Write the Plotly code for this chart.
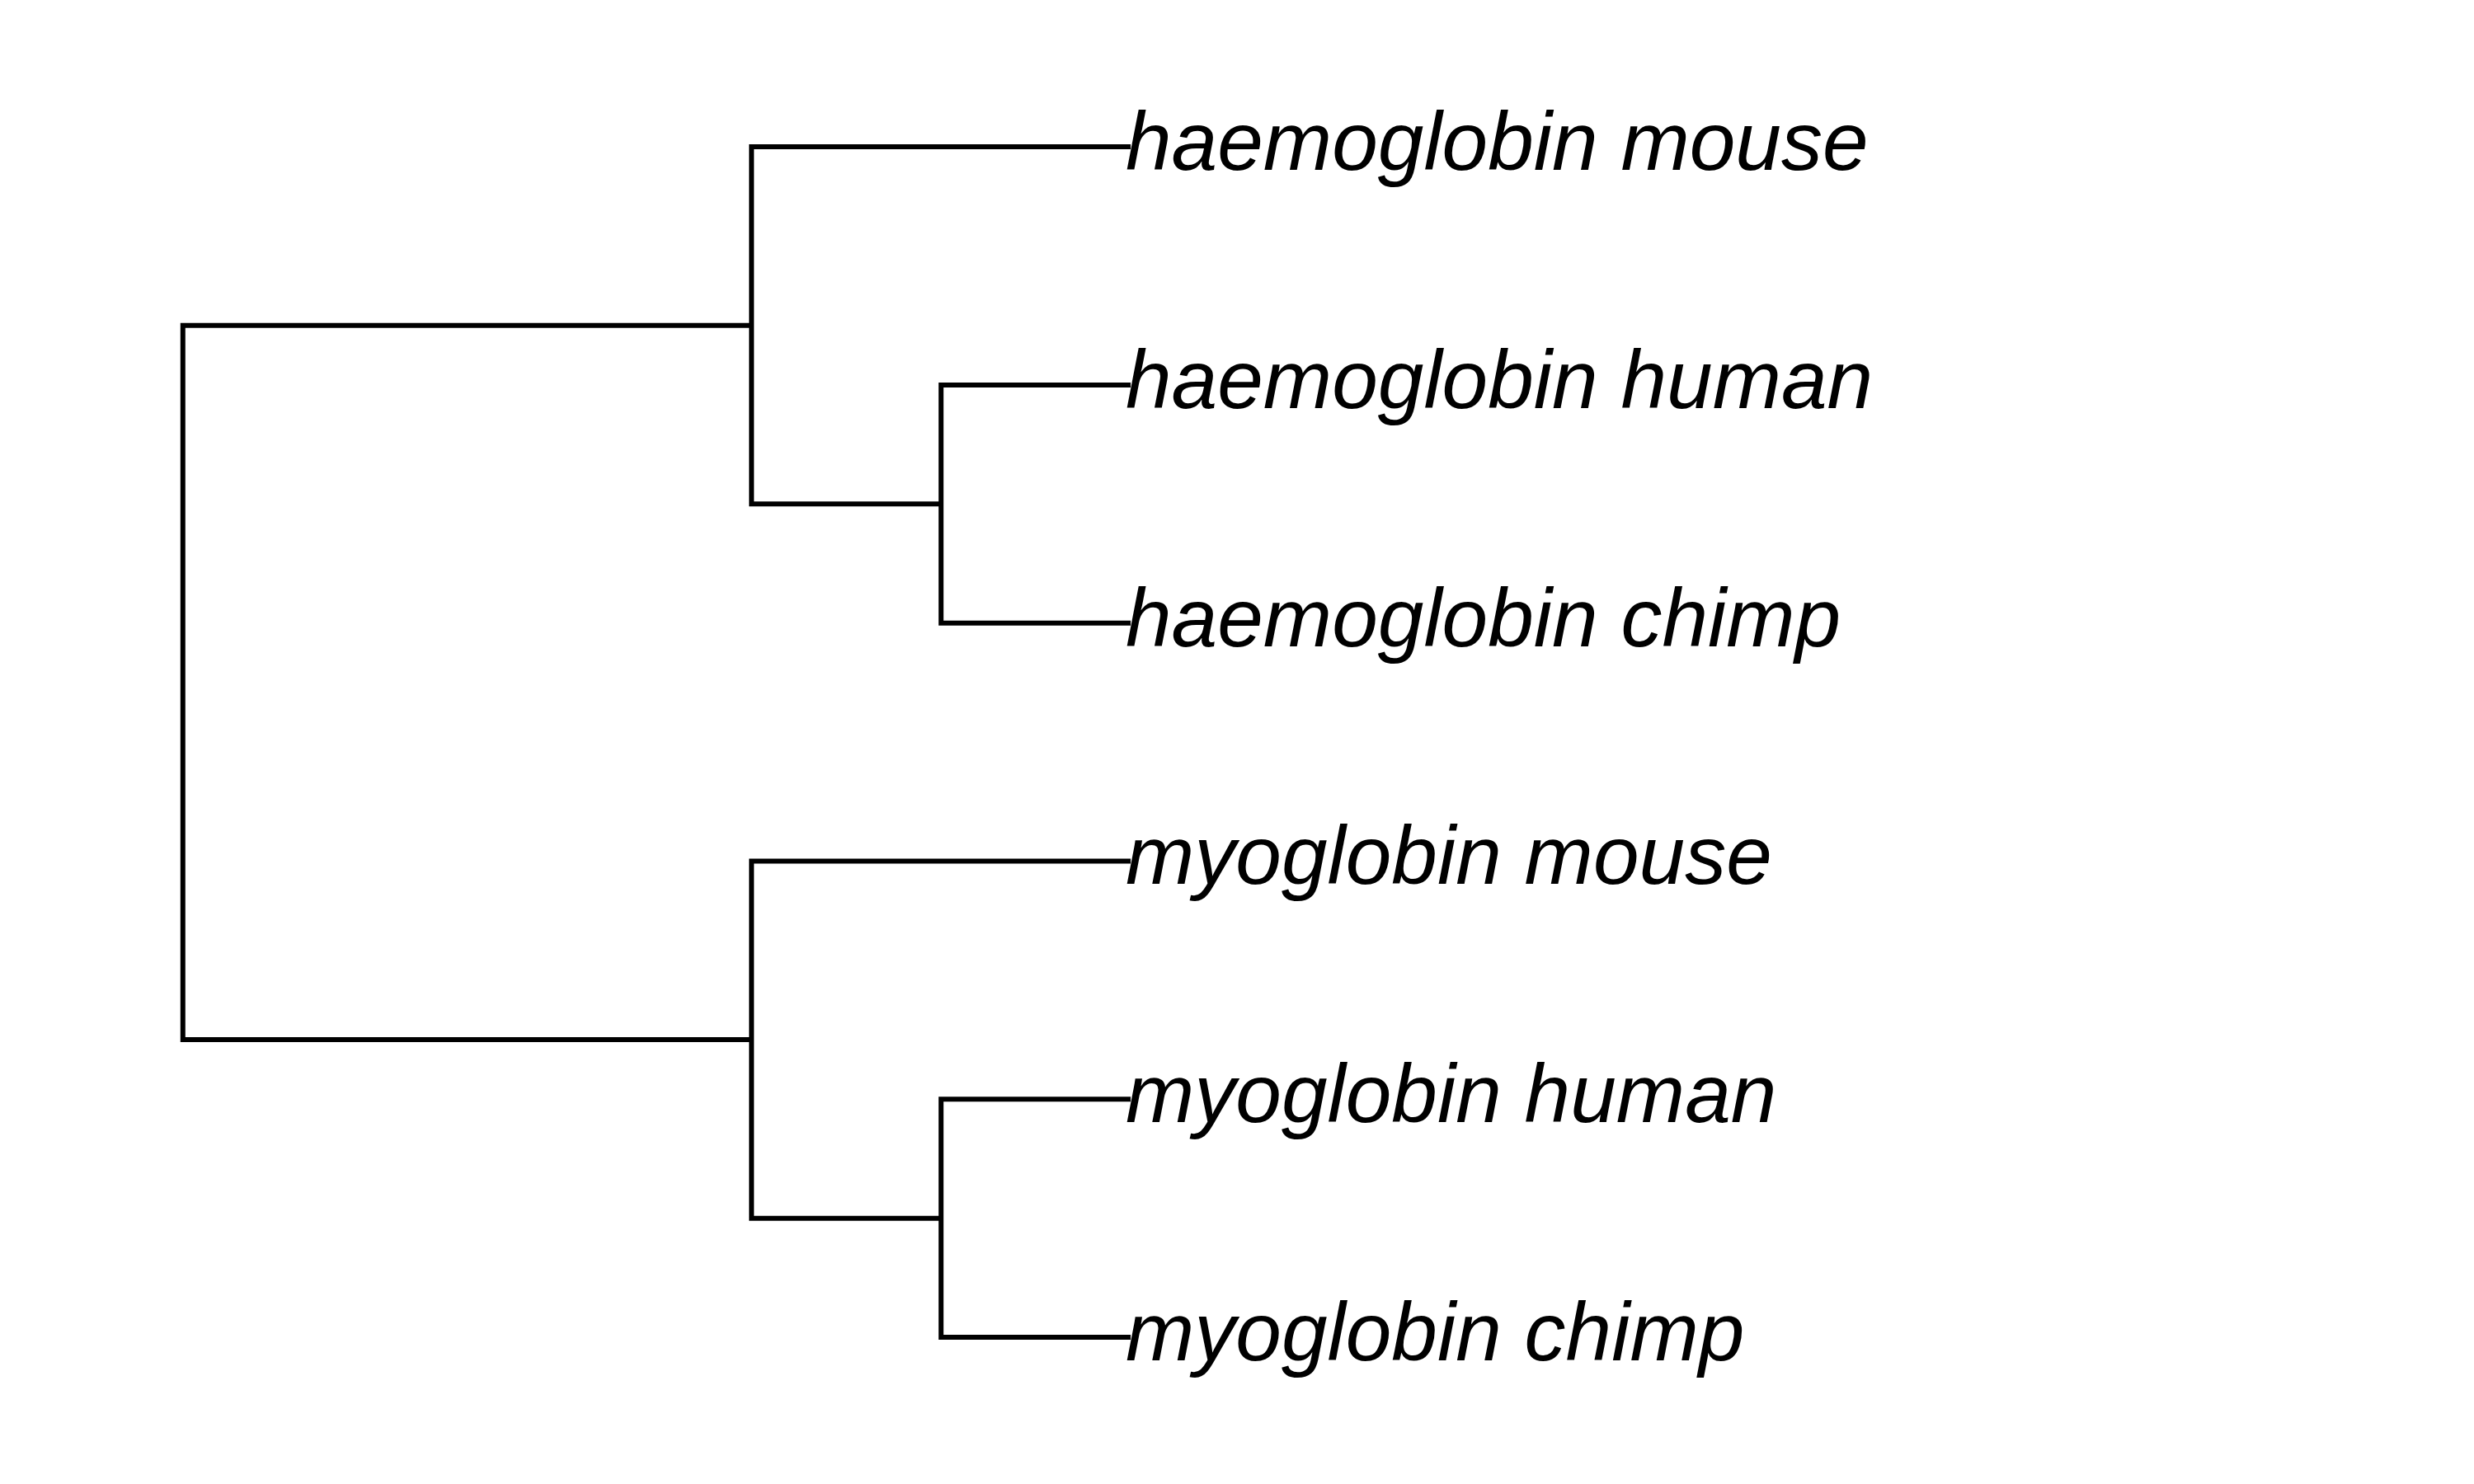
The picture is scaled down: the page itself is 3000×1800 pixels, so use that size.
"""Dendrogram of globin sequences drawn with plotly."""

import plotly.graph_objects as go

# leaf labels, top to bottom
labels = [
    "haemoglobin mouse",
    "haemoglobin human",
    "haemoglobin chimp",
    "myoglobin mouse",
    "myoglobin human",
    "myoglobin chimp",
]

# merges: (left node, right node, height); leaves are 0..5, new nodes are 6, 7, ...
merge_left = [1, 4, 0, 3, 8]
merge_right = [2, 5, 6, 7, 9]
merge_height = [1, 1, 2, 2, 5]

# node positions: leaves sit at height 0, y = 1..n
node_y = [i + 1 for i in range(len(labels))]
node_h = [0] * len(labels)

xs, ys = [], []
for a, b, h in zip(merge_left, merge_right, merge_height):
    # elbow: child a -> up to h, across, down to child b
    xs += [node_h[a], h, h, node_h[b], None]
    ys += [node_y[a], node_y[a], node_y[b], node_y[b], None]
    node_y.append((node_y[a] + node_y[b]) / 2)
    node_h.append(h)

fig = go.Figure(go.Scatter(
    x=xs,
    y=ys,
    mode="lines",
    line=dict(color="black", width=6),
    hoverinfo="skip",
    showlegend=False,
))

for i, lab in enumerate(labels):
    fig.add_annotation(
        x=0, y=i + 1,
        text=lab,
        showarrow=False,
        xanchor="left",
        yanchor="middle",
        xshift=-8,
        yshift=7,
        font=dict(family="Liberation Sans", size=100, color="black", style="italic"),
    )

# page body has an 8px margin, so the ranges are shifted to compensate
fig.update_layout(
    width=3000,
    height=1800,
    margin=dict(l=0, r=0, t=0, b=0),
    paper_bgcolor="white",
    plot_bgcolor="white",
    xaxis=dict(range=[5.930, -7.122], visible=False),
    yaxis=dict(range=[6.644, 0.411], visible=False),
)

fig.write_html("out.html")
